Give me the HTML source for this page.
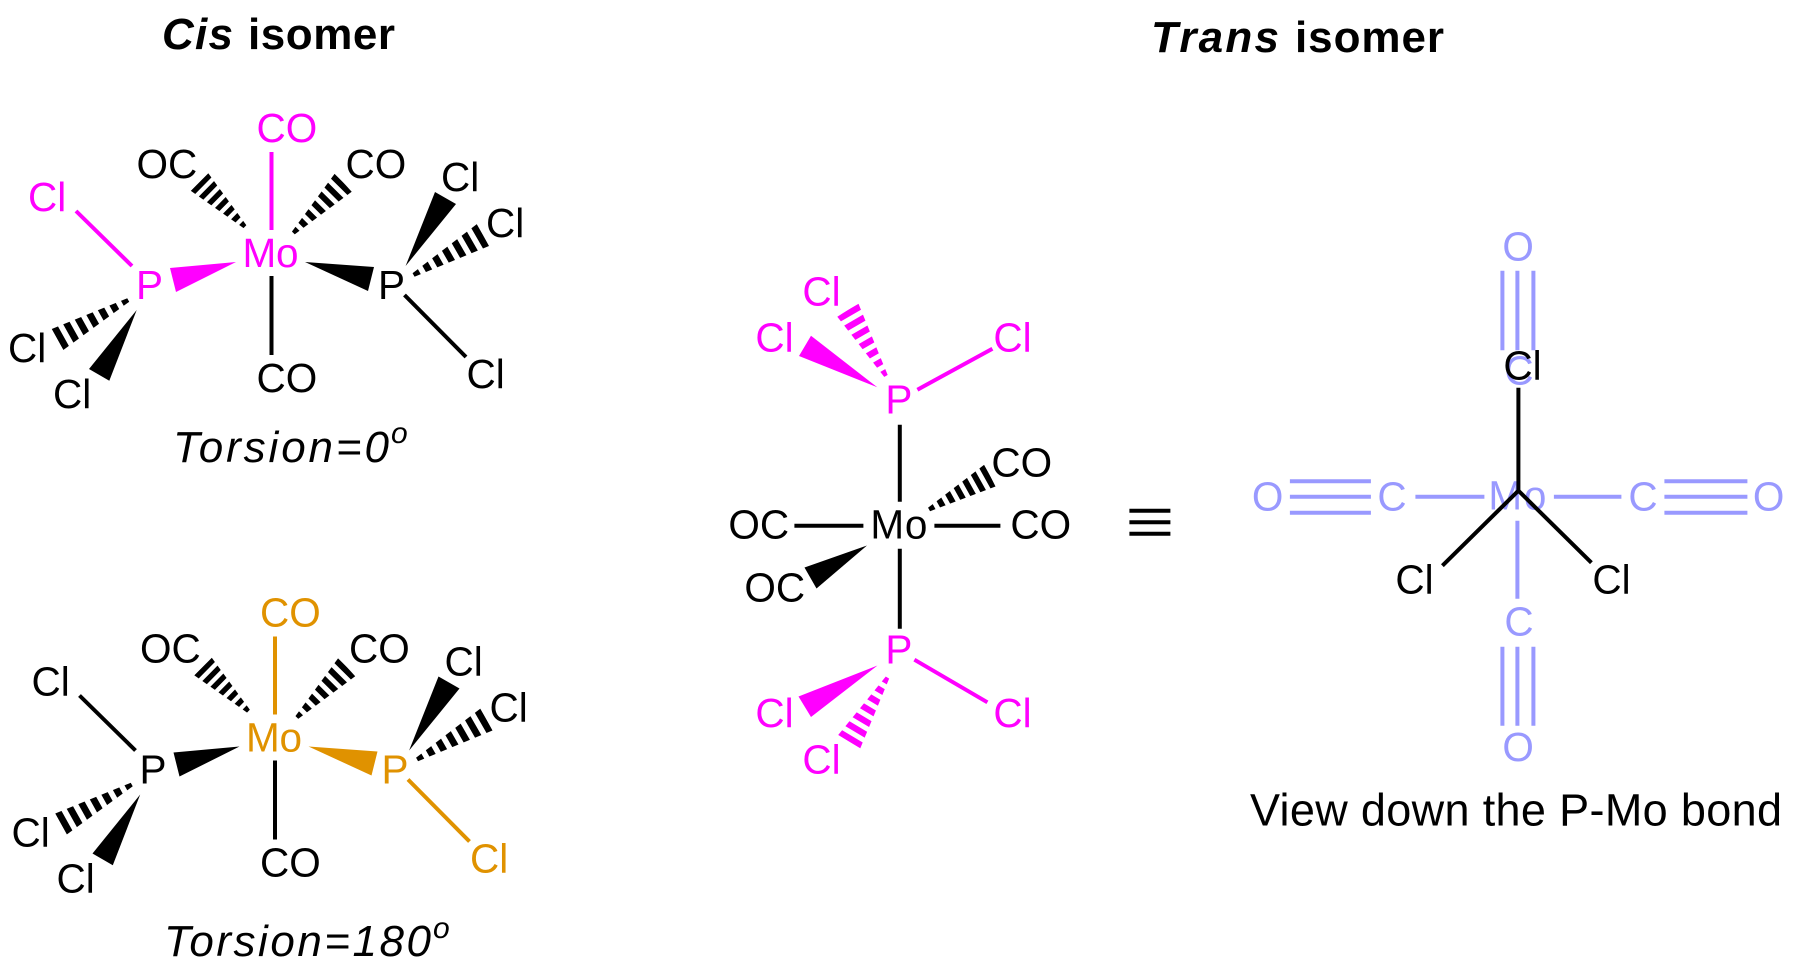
<!DOCTYPE html>
<html><head><meta charset="utf-8"><style>
html,body{margin:0;padding:0;background:#fff;width:1793px;height:977px;overflow:hidden}
svg{position:absolute;left:0;top:0;display:block}
text{font-family:"Liberation Sans",Arial,sans-serif;font-size:40.5px}
.t{font-weight:bold;font-size:44px}
.i{font-style:italic;font-size:44px}
.s{font-style:italic;font-size:30px}
.b line{stroke-width:4}
.b line.h{stroke-width:60;stroke-dasharray:.55 .45}
</style></head><body>
<svg width="1793" height="977" viewBox="0 0 1793 977" xmlns="http://www.w3.org/2000/svg">
<defs>
<clipPath id="a"><polygon points="246.4,225.3 243.6,228.1 190.7,190.7 208.3,173.3"/></clipPath>
<clipPath id="b"><polygon points="294.7,234.4 291.9,231.6 335,173.3 351.7,191.7"/></clipPath>
<clipPath id="c"><polygon points="129.3,301.7 127.3,298.3 51.7,329 63.3,350"/></clipPath>
<clipPath id="d"><polygon points="414.5,276.7 412.5,273.3 477,224 489,246"/></clipPath>
<clipPath id="e"><polygon points="887.7,375 884.3,377 837.3,316.7 858.3,303.3"/></clipPath>
<clipPath id="f"><polygon points="930,511.2 928,507.8 984.5,464.5 995.5,486.5"/></clipPath>
<clipPath id="g"><polygon points="889.2,678.5 885.8,676.5 838.2,735 860.2,748.5"/></clipPath>
</defs>
<rect width="1793" height="977" fill="#fff"/>

<!-- titles -->
<text class="t" x="162" y="49" font-style="italic" textLength="71">Cis</text>
<text class="t" x="248" y="49" textLength="147">isomer</text>
<text class="t" x="1151" y="52" font-style="italic" textLength="128">Trans</text>
<text class="t" x="1295" y="52" textLength="149">isomer</text>

<!-- top left -->
<g class="b">
<line x1="271.5" y1="152" x2="271.5" y2="230" stroke="#f0f"/>
<line x1="76" y1="211" x2="132" y2="266" stroke="#f0f"/>
<line x1="271.5" y1="276" x2="271.5" y2="355" stroke="#000"/>
<line x1="404.5" y1="295" x2="466" y2="357" stroke="#000"/>
<line class="h" pathLength="6.55" x2="199.5" y2="182" x1="245" y1="226.7" stroke="#000" clip-path="url(#a)"/>
<line class="h" pathLength="6.55" x2="343.3" y2="182.5" x1="293.3" y1="233" stroke="#000" clip-path="url(#b)"/>
<line class="h" pathLength="6.55" x2="57.5" y2="339.5" x1="128.3" y1="300" stroke="#000" clip-path="url(#c)"/>
<line class="h" pathLength="6.55" x2="483" y2="235" x1="413.5" y1="275" stroke="#000" clip-path="url(#d)"/>
</g>
<polygon points="236,262 170,268 176,292" fill="#f0f"/>
<polygon points="136.7,310 89,369 109.3,380.7" fill="#000"/>
<polygon points="305,262 374,267 368,291" fill="#000"/>
<polygon points="405.6,266 435,192 456,204" fill="#000"/>
<text x="256.5" y="142" fill="#f0f">CO</text>
<text x="136.5" y="178">OC</text>
<text x="345.5" y="178">CO</text>
<text x="28" y="211" fill="#f0f">Cl</text>
<text x="242.5" y="267" fill="#f0f" textLength="56">Mo</text>
<text x="136" y="299" fill="#f0f">P</text>
<text x="378" y="299">P</text>
<text x="8" y="362">Cl</text>
<text x="53" y="408">Cl</text>
<text x="441" y="191">Cl</text>
<text x="486" y="237">Cl</text>
<text x="466.5" y="388">Cl</text>
<text x="256.5" y="392">CO</text>
<text class="i" x="173" y="462" textLength="216">Torsion=0</text>
<text class="s" x="391" y="443">o</text>

<!-- bottom left -->
<g transform="translate(3.5,484.5)">
<g class="b">
<line x1="271.5" y1="152" x2="271.5" y2="230" stroke="#e09200"/>
<line x1="76" y1="211" x2="132" y2="266" stroke="#000"/>
<line x1="271.5" y1="276" x2="271.5" y2="355" stroke="#000"/>
<line x1="404.5" y1="295" x2="466" y2="357" stroke="#e09200"/>
<line class="h" pathLength="6.55" x2="199.5" y2="182" x1="245" y1="226.7" stroke="#000" clip-path="url(#a)"/>
<line class="h" pathLength="6.55" x2="343.3" y2="182.5" x1="293.3" y1="233" stroke="#000" clip-path="url(#b)"/>
<line class="h" pathLength="6.55" x2="57.5" y2="339.5" x1="128.3" y1="300" stroke="#000" clip-path="url(#c)"/>
<line class="h" pathLength="6.55" x2="483" y2="235" x1="413.5" y1="275" stroke="#000" clip-path="url(#d)"/>
</g>
<polygon points="236,262 170,268 176,292" fill="#000"/>
<polygon points="136.7,310 89,369 109.3,380.7" fill="#000"/>
<polygon points="305,262 374,267 368,291" fill="#e09200"/>
<polygon points="405.6,266 435,192 456,204" fill="#000"/>
<text x="256.5" y="142" fill="#e09200">CO</text>
<text x="136.5" y="178">OC</text>
<text x="345.5" y="178">CO</text>
<text x="28" y="211">Cl</text>
<text x="242.5" y="267" fill="#e09200" textLength="56">Mo</text>
<text x="136" y="299">P</text>
<text x="378" y="299" fill="#e09200">P</text>
<text x="8" y="362">Cl</text>
<text x="53" y="408">Cl</text>
<text x="441" y="191">Cl</text>
<text x="486" y="237">Cl</text>
<text x="466.5" y="388" fill="#e09200">Cl</text>
<text x="256.5" y="392">CO</text>
</g>
<text class="i" x="164" y="956" textLength="267">Torsion=180</text>
<text class="s" x="433" y="938">o</text>

<!-- middle -->
<g class="b">
<line class="h" pathLength="6.55" x2="847.8" y2="310" x1="886" y1="376" stroke="#f0f" clip-path="url(#e)"/>
<line class="h" pathLength="6.55" x2="990" y2="475.5" x1="929" y1="509.5" stroke="#000" clip-path="url(#f)"/>
<line class="h" pathLength="6.55" x2="849.2" y2="741.7" x1="887.5" y1="677.5" stroke="#f0f" clip-path="url(#g)"/>
</g>
<polygon points="877.3,387.3 811,335.7 799,356" fill="#f0f"/>
<polygon points="867,545.5 804.5,567.5 816.5,588.5" fill="#000"/>
<polygon points="877.5,665.5 798.5,696.5 811,717" fill="#f0f"/>
<g transform="translate(-4.6,-2.3)">
<g class="b">
<line x1="997" y1="351" x2="922" y2="392" stroke="#f0f"/>
<line x1="919" y1="662" x2="992" y2="704.6" stroke="#f0f"/>
<line x1="904.4" y1="427" x2="904.4" y2="504" stroke="#000"/>
<line x1="904.4" y1="551" x2="904.4" y2="631" stroke="#000"/>
<line x1="799" y1="528" x2="868" y2="528" stroke="#000"/>
<line x1="939" y1="528" x2="1005" y2="528" stroke="#000"/>
</g>
<text x="807" y="308" fill="#f0f">Cl</text>
<text x="760" y="354" fill="#f0f">Cl</text>
<text x="998" y="354" fill="#f0f">Cl</text>
<text x="890" y="416" fill="#f0f">P</text>
<text x="996" y="479">CO</text>
<text x="733" y="541">OC</text>
<text x="875" y="541" textLength="57">Mo</text>
<text x="1015" y="541">CO</text>
<text x="749" y="604">OC</text>
<text x="890" y="666" fill="#f0f">P</text>
<text x="760" y="729.5" fill="#f0f">Cl</text>
<text x="998" y="729.5" fill="#f0f">Cl</text>
<text x="807" y="776" fill="#f0f">Cl</text>
<g stroke="#000" stroke-width="4">
<line x1="1134" y1="513" x2="1175" y2="513"/>
<line x1="1134" y1="524.5" x2="1175" y2="524.5"/>
<line x1="1134" y1="536" x2="1175" y2="536"/>
</g>
</g>

<!-- right -->
<g transform="translate(-4.6,-2.3)">
<g stroke="#9999ff" stroke-width="4">
<line x1="1507" y1="273" x2="1507" y2="352.5"/><line x1="1522" y1="273" x2="1522" y2="352.5"/><line x1="1538" y1="273" x2="1538" y2="352.5"/>
<line x1="1507" y1="649" x2="1507" y2="728"/><line x1="1522" y1="649" x2="1522" y2="728"/><line x1="1538" y1="649" x2="1538" y2="728"/>
<line x1="1294.5" y1="483.5" x2="1375.5" y2="483.5"/><line x1="1294.5" y1="499" x2="1375.5" y2="499"/><line x1="1294.5" y1="515" x2="1375.5" y2="515"/>
<line x1="1669" y1="483.5" x2="1752" y2="483.5"/><line x1="1669" y1="499" x2="1752" y2="499"/><line x1="1669" y1="515" x2="1752" y2="515"/>
<line x1="1420" y1="499" x2="1489" y2="499"/>
<line x1="1558.5" y1="499" x2="1626" y2="499"/>
<line x1="1522" y1="523" x2="1522" y2="601"/>
</g>
<g fill="#9999ff">
<text x="1507" y="263">O</text>
<text x="1509" y="387">C</text>
<text x="1493" y="512" textLength="58">Mo</text>
<text x="1256.5" y="513">O</text>
<text x="1382" y="513">C</text>
<text x="1633" y="513">C</text>
<text x="1757.5" y="513">O</text>
<text x="1509" y="638">C</text>
<text x="1507" y="763.5">O</text>
</g>
<g stroke="#000" stroke-width="4">
<line x1="1523" y1="390" x2="1523" y2="494"/>
<line x1="1523" y1="493" x2="1447" y2="568"/>
<line x1="1523" y1="493" x2="1596" y2="565"/>
</g>
<text x="1508" y="382">Cl</text>
<text x="1400" y="596">Cl</text>
<text x="1597" y="596">Cl</text>
</g>
<text x="1250" y="825.5" style="font-size:45px" textLength="532">View down the P-Mo bond</text>
</svg>
</body></html>
